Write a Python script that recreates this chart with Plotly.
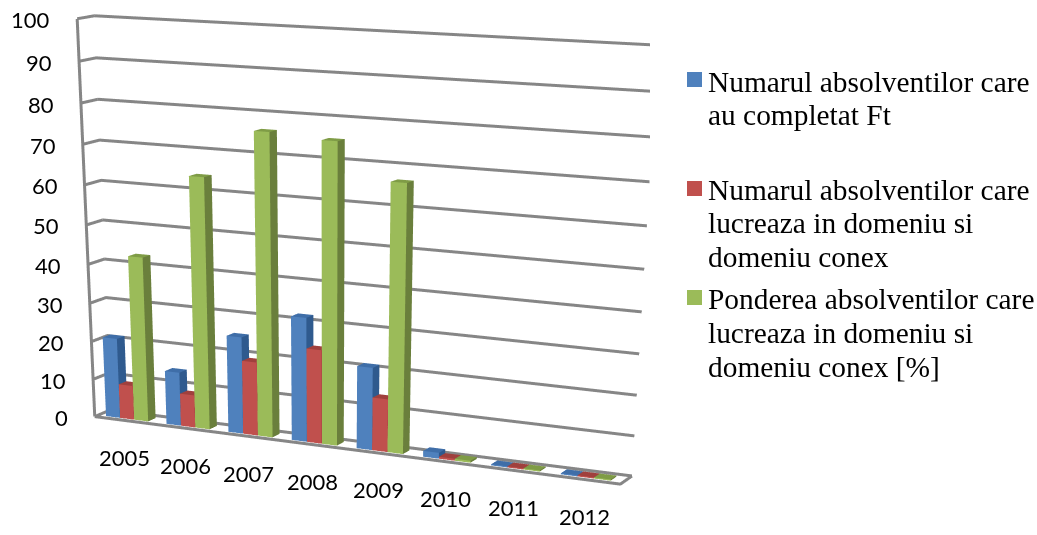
import plotly.graph_objects as go

years = ["2005", "2006", "2007", "2008", "2009", "2010", "2011", "2012"]
completed = [21, 14, 25, 31.7, 21, 1.5, 0.3, 0.3]
employed = [9, 8.5, 19, 24, 13.5, 0.5, 0.3, 0.3]
share = [42.7, 64, 76, 75, 66.5, 0.5, 0.3, 0.3]
y_ticks = [0, 10, 20, 30, 40, 50, 60, 70, 80, 90, 100]

PAGE_W, FIG_H = 1037, 2000
BAR_W, BAR_START = 0.233, 0.13
DEPTH = (0.22, 0.70)
GRID = "#868686"
GRID_W = 6
SERIES = [
    ("Numarul absolventilor care au completat Ft", completed, "#4F81BD", "#3F6EA8", "#2F5A8E"),
    ("Numarul absolventilor care lucreaza in domeniu si domeniu conex", employed, "#C0504D", "#A0403D", "#8C3836"),
    ("Ponderea absolventilor care lucreaza in domeniu si domeniu conex [%]", share, "#9BBB59", "#7F9C46", "#6A7F3C"),
]
LEGEND_LINES = [
    ["Numarul absolventilor care", "au completat Ft"],
    ["Numarul absolventilor care", "lucreaza in domeniu si", "domeniu conex"],
    ["Ponderea absolventilor care", "lucreaza in domeniu si", "domeniu conex [%]"],
]
LEGEND_MIDS = [[82, 115], [190, 223, 257], [299, 333, 367]]
LEGEND_SWATCH_TOPS = [72, 181, 290]
LEGEND_COLORS = ["#4F81BD", "#C0504D", "#9BBB59"]

fig = go.Figure()

for s, (name, values, front, top, side) in enumerate(SERIES):
    xs, ys, zs, i, j, k, colors = [], [], [], [], [], [], []
    for c, v in enumerate(values):
        x0 = c + BAR_START + s * BAR_W
        x1 = x0 + BAR_W
        y0, y1 = DEPTH
        n = len(xs)
        xs += [x0, x1, x1, x0, x0, x1, x1, x0]
        ys += [y0, y0, y1, y1, y0, y0, y1, y1]
        zs += [0, 0, 0, 0, v, v, v, v]
        faces = [
            (0, 1, 5, front), (0, 5, 4, front),
            (1, 2, 6, side), (1, 6, 5, side),
            (4, 5, 6, top), (4, 6, 7, top),
        ]
        for a, b, d, col in faces:
            i.append(n + a); j.append(n + b); k.append(n + d); colors.append(col)
    fig.add_trace(go.Mesh3d(x=xs, y=ys, z=zs, i=i, j=j, k=k, facecolor=colors, flatshading=True,
                            name=name, hoverinfo="name",
                            lighting=dict(ambient=1, diffuse=0, specular=0, roughness=1, fresnel=0)))

n_cat = len(years)
for t in y_ticks:
    fig.add_trace(go.Scatter3d(x=[0, 0, n_cat], y=[0, 1, 1], z=[t, t, t], mode="lines",
                               line=dict(color=GRID, width=GRID_W), hoverinfo="skip", showlegend=False))
fig.add_trace(go.Scatter3d(x=[0, 0], y=[0, 0], z=[0, 100], mode="lines",
                           line=dict(color=GRID, width=GRID_W), hoverinfo="skip", showlegend=False))
fig.add_trace(go.Scatter3d(x=[0, n_cat, n_cat], y=[0, 0, 1], z=[0, 0, 0], mode="lines",
                           line=dict(color=GRID, width=GRID_W), hoverinfo="skip", showlegend=False))

scene_notes = []
for t in y_ticks:
    scene_notes.append(dict(x=0, y=0, z=t, text=str(t), showarrow=False, xanchor="right", xshift=-25, yshift=-1,
                            font=dict(family="Lato", size=22, color="#000000")))
for c, yr in enumerate(years):
    scene_notes.append(dict(x=c + 0.5, y=0, z=0, text=yr, showarrow=False, yshift=-37,
                            font=dict(family="Lato", size=22, color="#000000")))

hidden = dict(visible=False, showgrid=False, zeroline=False, showticklabels=False, showbackground=False, title="")
fig.update_layout(
    width=PAGE_W, height=FIG_H, autosize=False,
    margin=dict(l=0, r=0, t=0, b=0), paper_bgcolor="#FFFFFF", showlegend=False,
    scene=dict(
        domain=dict(x=[0, 650 / PAGE_W], y=[0, 1]),
        xaxis=dict(range=[0, n_cat], **hidden),
        yaxis=dict(range=[0, 1], **hidden),
        zaxis=dict(range=[0, 100], **hidden),
        aspectmode="manual", aspectratio=dict(x=1.5042, y=0.0829, z=1),
        camera=dict(eye=dict(x=2.7007, y=-5.5968, z=1.1165),
                    center=dict(x=0.0542, y=-0.2668, z=-1.985),
                    up=dict(x=-0.0003, y=0.0066, z=1),
                    projection=dict(type="perspective")),
        annotations=scene_notes,
    ),
)

for lines, mids, top, col in zip(LEGEND_LINES, LEGEND_MIDS, LEGEND_SWATCH_TOPS, LEGEND_COLORS):
    for text, mid in zip(lines, mids):
        fig.add_annotation(xref="paper", yref="paper", x=708 / PAGE_W, y=1 - mid / FIG_H, text=text,
                           showarrow=False, xanchor="left", yanchor="middle", align="left",
                           xshift=-2, font=dict(family="Liberation Serif", size=29.4, color="#000000"))
    fig.add_shape(type="rect", xref="paper", yref="paper",
                  x0=687 / PAGE_W, x1=702 / PAGE_W,
                  y0=1 - (top + 15) / FIG_H, y1=1 - top / FIG_H,
                  fillcolor=col, line=dict(width=0))

fig.write_html("out.html", config=dict(displayModeBar=False),
               post_script="document.body.style.margin='0';document.documentElement.style.overflow='hidden';document.body.style.overflow='hidden';")
